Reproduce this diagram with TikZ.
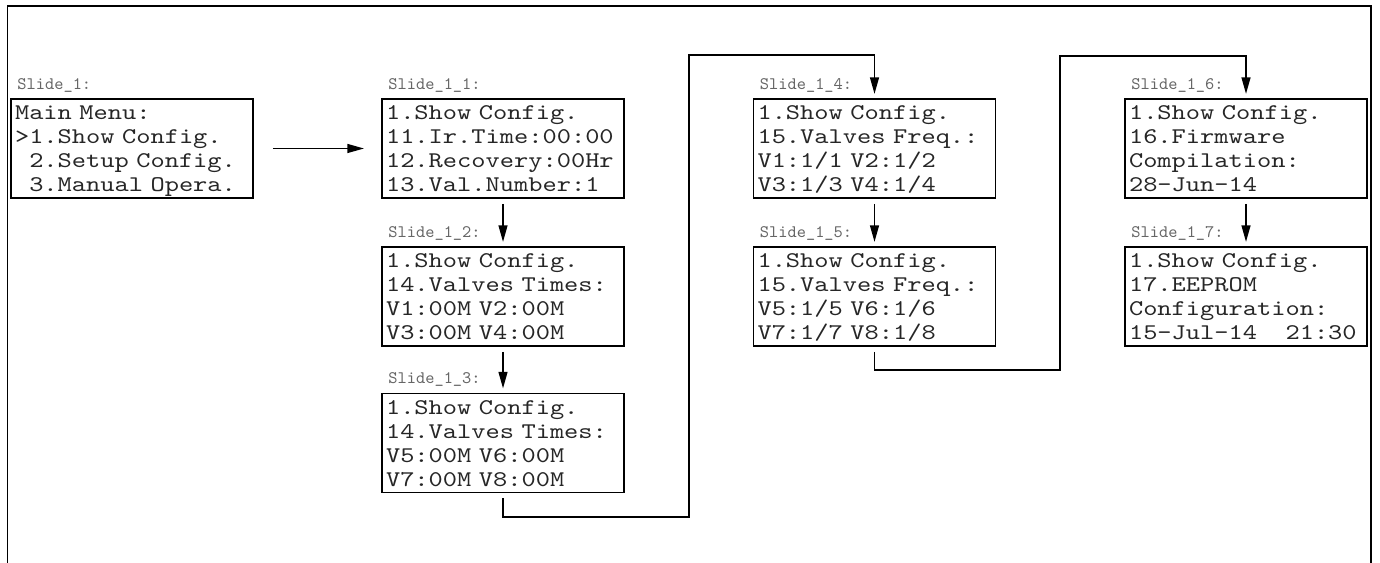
\documentclass[tikz,border=0pt]{standalone}
\usepackage{tikz}
\usetikzlibrary{arrows.meta}
\font\lcdfont="[lmmono10-regular]:extend=1.21" at 12.75pt
\setbox0\hbox{\lcdfont 0}
\fontdimen2\lcdfont=\wd0 \fontdimen3\lcdfont=0pt \fontdimen4\lcdfont=0pt
\newcommand{\topstrut}{\rule{0pt}{11.95pt}}
\newcommand{\botstrut}{\rule[-3.41pt]{0pt}{3.41pt}}
\newcommand{\scrfont}{\lcdfont\baselineskip=13.66pt\lineskiplimit=-20pt\relax}
\newcommand{\blank}{\hphantom{0}}

\begin{document}
\begin{tikzpicture}[x=0.02cm,y=-0.02cm,
  screen/.style={draw,line width=1.1pt,inner xsep=0.08cm,inner ysep=0pt,
    text width=4.68cm,align=left,text=black!85,font=\scrfont},
  slidelbl/.style={anchor=base west,inner sep=0pt,text=black!60,
    font=\ttfamily\fontsize{10}{11}\selectfont},
  flow/.style={line width=1.1pt,-{Triangle[length=9.5pt,width=5pt]},
    shorten <=0.1cm,shorten >=0.08cm}]
\useasboundingbox (0,0) rectangle (1380,563);
\draw[line width=1.1pt] (7.5,563) -- (7.5,6) -- (1371,6) -- (1371,563);
\node[screen] (s1)  at (132,148.5)   {\topstrut Main Menu:\\>1.Show Config.\\\blank 2.Setup Config.\\\blank 3.Manual Opera.\botstrut};
\node[screen] (s11) at (503,148.5)   {\topstrut 1.Show Config.\\11.Ir.Time:00:00\\12.Recovery:00Hr\\13.Val.Number:1\botstrut};
\node[screen] (s12) at (503,296.5)   {\topstrut 1.Show Config.\\14.Valves Times:\\V1:00M V2:00M\\V3:00M V4:00M\botstrut};
\node[screen] (s13) at (503,443)     {\topstrut 1.Show Config.\\14.Valves Times:\\V5:00M V6:00M\\V7:00M V8:00M\botstrut};
\node[screen] (s14) at (874.5,148.5) {\topstrut 1.Show Config.\\15.Valves Freq.:\\V1:1/1 V2:1/2\\V3:1/3 V4:1/4\botstrut};
\node[screen] (s15) at (874.5,296.5) {\topstrut 1.Show Config.\\15.Valves Freq.:\\V5:1/5 V6:1/6\\V7:1/7 V8:1/8\botstrut};
\node[screen] (s16) at (1246,148.5)  {\topstrut 1.Show Config.\\16.Firmware\\Compilation:\\28-Jun-14\botstrut};
\node[screen] (s17) at (1246,296.5)  {\topstrut 1.Show Config.\\17.EEPROM\\Configuration:\\15-Jul-14\blank\blank 21:30\botstrut};
\node[slidelbl] (l1)  at ([shift={(0.14cm,0.18cm)}]s1.north west)  {Slide\_1:};
\node[slidelbl] (l11) at ([shift={(0.14cm,0.18cm)}]s11.north west) {Slide\_1\_1:};
\node[slidelbl] (l12) at ([shift={(0.14cm,0.18cm)}]s12.north west) {Slide\_1\_2:};
\node[slidelbl] (l13) at ([shift={(0.14cm,0.18cm)}]s13.north west) {Slide\_1\_3:};
\node[slidelbl] (l14) at ([shift={(0.14cm,0.18cm)}]s14.north west) {Slide\_1\_4:};
\node[slidelbl] (l15) at ([shift={(0.14cm,0.18cm)}]s15.north west) {Slide\_1\_5:};
\node[slidelbl] (l16) at ([shift={(0.14cm,0.18cm)}]s16.north west) {Slide\_1\_6:};
\node[slidelbl] (l17) at ([shift={(0.14cm,0.18cm)}]s17.north west) {Slide\_1\_7:};
\coordinate (b1) at (689,55);
\coordinate (b2) at (1060,56);
\draw[flow,shorten <=0.38cm,shorten >=0.34cm] (s1.east) -- (s11.west);
\draw[flow] (s11.south) -- (s12.north);
\draw[flow] (s12.south) -- (s13.north);
\draw[flow] (s13.south) -- ++(0,24) -| (b1) -| (s14.north);
\draw[flow] (s14.south) -- (s15.north);
\draw[flow] (s15.south) -- ++(0,23) -| (b2) -| (s16.north);
\draw[flow] (s16.south) -- (s17.north);
\end{tikzpicture}
\end{document}
